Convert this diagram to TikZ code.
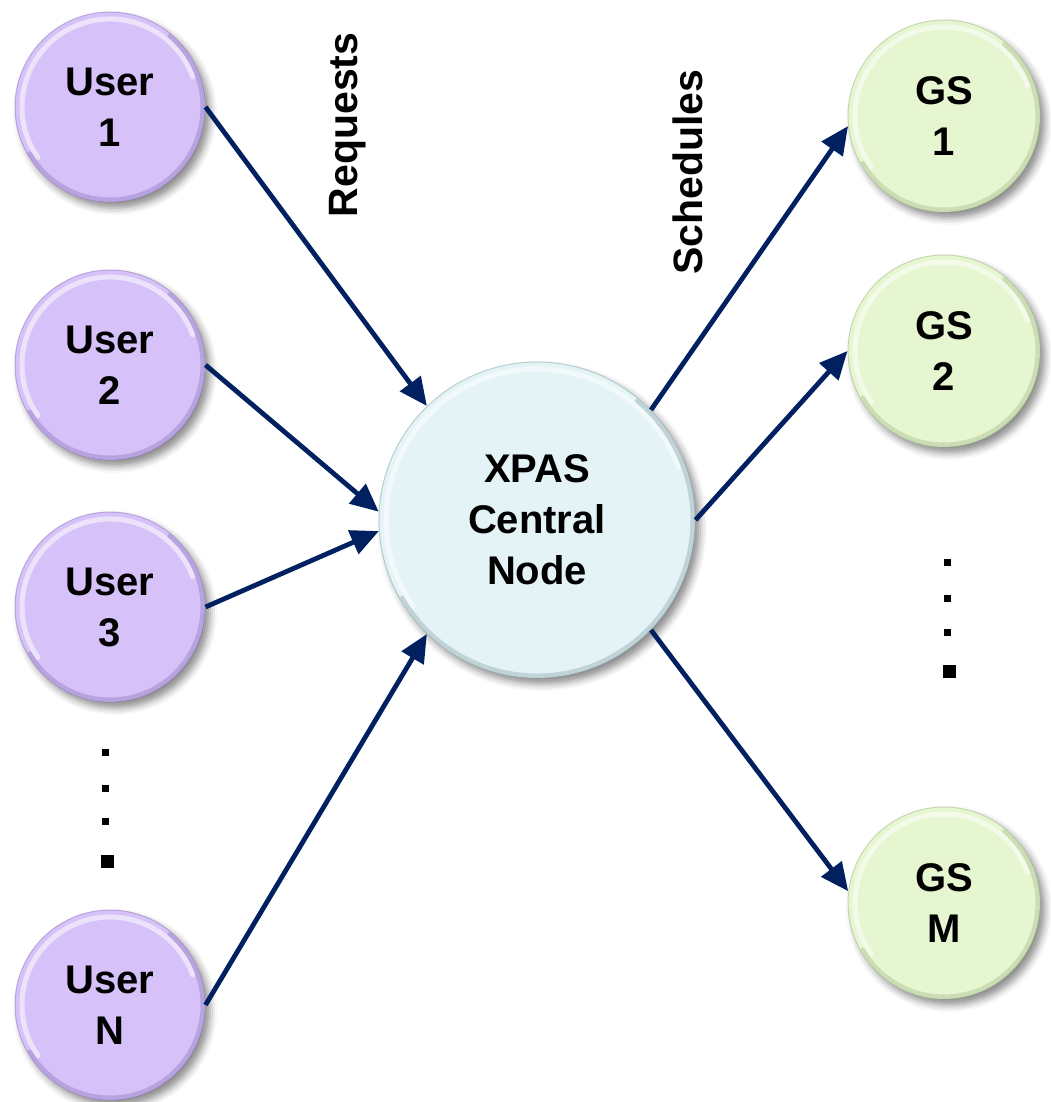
\documentclass[tikz,border=0pt]{standalone}
\usepackage{fontspec}
\setmainfont{Liberation Sans}
\usetikzlibrary{arrows.meta,shadows.blur}

\definecolor{userfill}{RGB}{214,194,248}
\definecolor{useredge}{RGB}{130,108,180}
\definecolor{gsfill}{RGB}{230,246,208}
\definecolor{gsedge}{RGB}{150,175,125}
\definecolor{cfill}{RGB}{228,243,246}
\definecolor{cedge}{RGB}{125,155,162}
\definecolor{arrowblue}{RGB}{0,32,96}

\tikzset{
  ball/.style n args={3}{circle, inner sep=0pt, minimum size=#1,
    fill=#2, draw=#3, draw opacity=.45, line width=1pt, align=center,
    font=\fontsize{40}{51}\selectfont\bfseries,
    blur shadow={shadow xshift=5pt, shadow yshift=-6pt,
      shadow blur radius=7pt, shadow opacity=45}},
  userball/.style={ball={190pt}{userfill}{useredge}},
  gsball/.style={ball={192pt}{gsfill}{gsedge}},
  centerball/.style={ball={316pt}{cfill}{cedge}},
  flow/.style={draw=arrowblue, line width=4.8pt,
    -{Triangle[length=28pt,width=25pt]}},
  caption/.style={rotate=90, font=\fontsize{41}{46}\selectfont\bfseries},
  dotsq/.style={fill=black, inner sep=0pt, minimum size=7pt},
  bigsq/.style={fill=black, inner sep=0pt, minimum size=13pt},
  rim/.style={white, opacity=.55, line width=5pt, line cap=round},
  darkrim/.style={draw=#1, opacity=.35, line width=4pt, line cap=round},
}

% glossy inner rim on the upper-left side, darker bevel on the lower-right
\newcommand{\glossrim}[3]{%
  \draw[rim] ([shift={(20:#2-7)}]#1.center) arc[start angle=20, end angle=215, radius=#2-7];
  \draw[darkrim=#3] ([shift={(-150:#2-2.5)}]#1.center) arc[start angle=-150, end angle=50, radius=#2-2.5];}

\begin{document}
\begin{tikzpicture}[x=1pt,y=1pt]
\useasboundingbox (0,0) rectangle (1051,1102);

% users
\node[userball] (u1) at (110,995) {User\\1};
\node[userball] (u2) at (110,737) {User\\2};
\node[userball] (u3) at (110,495) {User\\3};
\node[userball] (uN) at (110,97)  {User\\N};

% ground stations
\node[gsball] (g1) at (944,986) {GS\\1};
\node[gsball] (g2) at (944,751) {GS\\2};
\node[gsball] (gM) at (944,199) {GS\\M};

% central node
\node[centerball] (c) at (537,582) {XPAS\\Central\\Node};

\foreach \n in {u1,u2,u3,uN}{\glossrim{\n}{95}{useredge}}
\foreach \n in {g1,g2,gM}{\glossrim{\n}{96}{gsedge}}
\glossrim{c}{158}{cedge}

% vertical ellipses
\node[dotsq] (ld1) at (105.5,349) {};
\node[dotsq] (ld2) at (105.5,313) {};
\node[dotsq] (ld3) at (105.5,280) {};
\node[bigsq] (ld4) at (107,240) {};
\node[dotsq] (rd1) at (947,539) {};
\node[dotsq] (rd2) at (947,503) {};
\node[dotsq] (rd3) at (947,469) {};
\node[bigsq] (rd4) at (949,430) {};

% requests in
\draw[flow] (u1.east) -- (c.134);
\draw[flow] (u2.east) -- (c.177);
\draw[flow] (u3.east) -- (c.184);
\draw[flow] (uN.east) -- (c.226);

% schedules out
\draw[flow] (c.44)  -- (g1.186);
\draw[flow] (c.east) -- (g2.west);
\draw[flow] (c.-44) -- (gM.173);

% labels
\node[caption] (req) at (348,977) {Requests};
\node[caption] (sch) at (688,930) {Schedules};
\end{tikzpicture}
\end{document}
